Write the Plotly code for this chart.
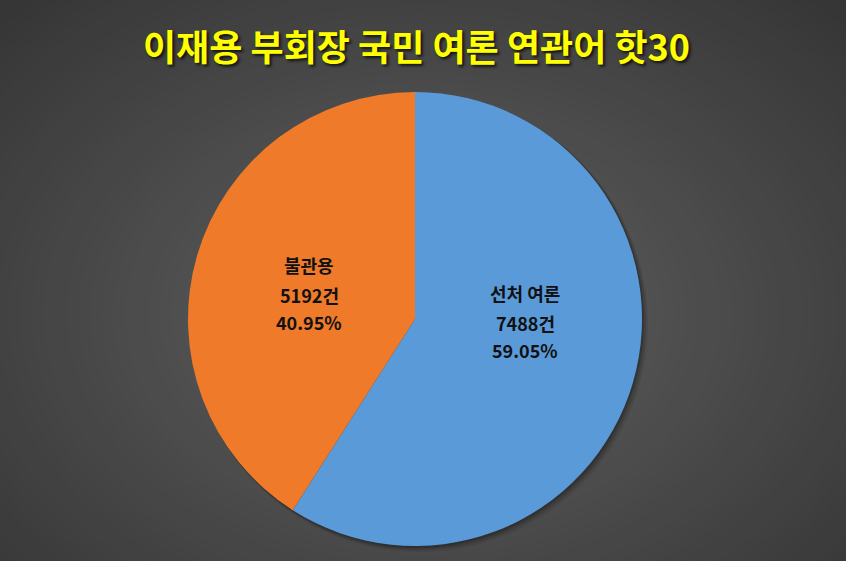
import plotly.graph_objects as go

title_text = "이재용 부회장 국민 여론 연관어 핫30"
labels = ["선처 여론", "불관용"]
counts = [7488, 5192]
percents = ["59.05%", "40.95%"]
colors = ["#5a9ad8", "#ee7a2a"]

W, H = 846, 561
cx, cy, r = 415, 319, 227

fig = go.Figure()
fig.add_trace(go.Pie(
    labels=labels, values=counts, sort=False, direction="clockwise", rotation=0,
    marker=dict(colors=colors, line=dict(color="rgba(0,0,0,0)", width=0)),
    textinfo="none", hoverinfo="label+value+percent", showlegend=False,
    domain=dict(x=[(cx - r) / W, (cx + r) / W], y=[(H - cy - r) / H, (H - cy + r) / H]),
))

shapes = []
# radial background gradient
n = 70
outer = (36, 36, 36)
inner = (94, 94, 94)
for i in range(n):
    t = i / (n - 1)
    col = tuple(int(round(outer[k] + (inner[k] - outer[k]) * t)) for k in range(3))
    sx = 0.95 * (1 - t) + 0.05
    sy = 1.05 * (1 - t) + 0.05
    x0c, y0c = 0.5, 0.44
    shapes.append(dict(type="circle", xref="paper", yref="paper", layer="below",
                       x0=x0c - sx, x1=x0c + sx, y0=y0c - sy, y1=y0c + sy,
                       fillcolor="rgb(%d,%d,%d)" % col, line=dict(width=0)))
# soft pie shadow
for k, a in [(6, 0.08), (4, 0.12), (2, 0.18)]:
    shapes.append(dict(type="circle", xref="paper", yref="paper", layer="below",
                       x0=(cx - r + k / 2) / W, x1=(cx + r + k) / W,
                       y0=(H - cy - r - k) / H, y1=(H - cy + r - k / 2) / H,
                       fillcolor="rgba(0,0,0,%.2f)" % a, line=dict(width=0)))

annotations = []
annotations.append(dict(text="<b>%s</b>" % title_text, x=416 / W, y=(H - 45) / H,
                        xref="paper", yref="paper", showarrow=False,
                        font=dict(size=36, color="#ffff00", family="Noto Sans CJK KR",
                                  shadow="2px 2px 3px rgba(0,0,0,0.75)"),
                        xanchor="center", yanchor="middle"))

label_pos = [(525, [293, 323, 350]), (309, [265, 295, 322])]
for i, (lx, ys) in enumerate(label_pos):
    lines = [labels[i], "%d건" % counts[i], percents[i]]
    for line, yy in zip(lines, ys):
        annotations.append(dict(text="<b>%s</b>" % line, x=lx / W, y=(H - yy) / H,
                                xref="paper", yref="paper", showarrow=False,
                                font=dict(size=18, color="#111111", family="Noto Sans CJK KR"),
                                xanchor="center", yanchor="middle"))

fig.update_layout(width=W, height=H, margin=dict(l=0, r=0, t=0, b=0),
                  paper_bgcolor="#242424", plot_bgcolor="rgba(0,0,0,0)",
                  shapes=shapes, annotations=annotations)
fig.write_html("out.html", config={"displayModeBar": False},
               post_script="document.body.style.margin='0';document.body.style.overflow='hidden';")
